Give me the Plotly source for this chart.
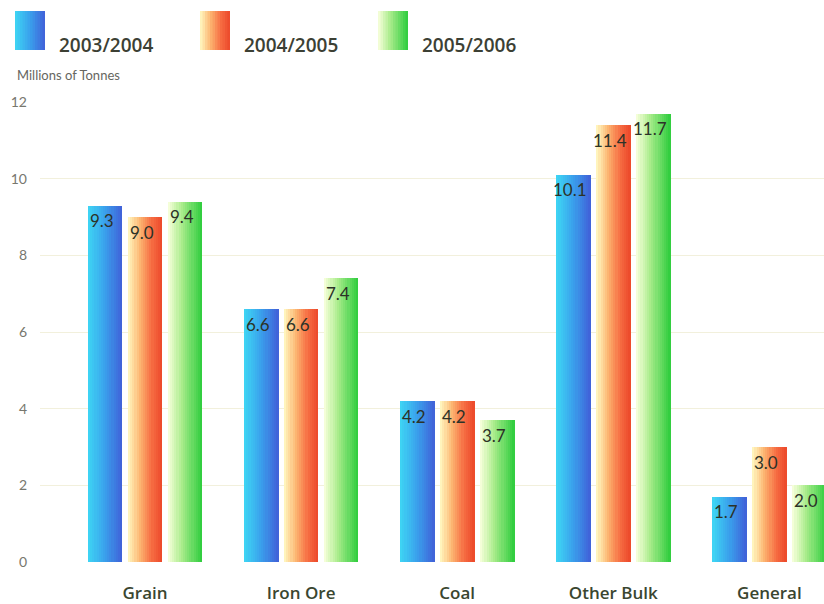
import plotly.graph_objects as go

categories = ["Grain", "Iron Ore", "Coal", "Other Bulk", "General"]
series_names = ["2003/2004", "2004/2005", "2005/2006"]
v2003 = [9.3, 6.6, 4.2, 10.1, 1.7]
v2004 = [9.0, 6.6, 4.2, 11.4, 3.0]
v2005 = [9.4, 7.4, 3.7, 11.7, 2.0]
y_ticks = [0, 2, 4, 6, 8, 10, 12]

values = [v2003, v2004, v2005]
gradients = [
    [(0.0, (62, 214, 244)), (0.5, (58, 160, 236)), (1.0, (64, 96, 216))],
    [(0.0, (255, 250, 195)), (0.35, (252, 180, 112)), (0.7, (246, 108, 66)), (1.0, (236, 72, 42))],
    [(0.0, (250, 255, 222)), (0.4, (170, 236, 140)), (1.0, (44, 204, 60))],
]

def interp(stops, t):
    for (t0, c0), (t1, c1) in zip(stops[:-1], stops[1:]):
        if t <= t1:
            f = (t - t0) / (t1 - t0) if t1 > t0 else 0
            return "rgb(%d,%d,%d)" % tuple(round(a + (b - a) * f) for a, b in zip(c0, c1))
    return "rgb(%d,%d,%d)" % stops[-1][1]

x = list(range(len(categories)))
bar_w = 0.218
gap = 0.038
offsets = [-0.365 + i * (bar_w + gap) for i in range(3)]
N = 16
sw = bar_w / N

fig = go.Figure()
for s in range(3):
    for k in range(N):
        t = (k + 0.5) / N
        fig.add_trace(go.Bar(
            x=x, y=values[s], width=sw * 1.15, offset=offsets[s] + k * sw,
            marker=dict(color=interp(gradients[s], t), line=dict(width=0)),
            showlegend=False, hoverinfo="skip"))

# value labels
for s in range(3):
    for i, v in enumerate(values[s]):
        fig.add_annotation(
            x=i + offsets[s] + bar_w / 2, y=v, xref="x", yref="y",
            text=f"{v:.1f}", showarrow=False, xanchor="center", yanchor="middle",
            xshift=-3, yshift=-15,
            font=dict(family="Lato", size=17, color="#2c3228"))

# legend
def px2paper(px, py):
    return (px - 40) / 784, (562 - py) / 460

legend_x = [15, 200, 378]
for s in range(3):
    x0 = legend_x[s]
    M = 12
    for k in range(M):
        t = (k + 0.5) / M
        ax0, ay0 = px2paper(x0 + k * 30 / M, 50)
        ax1, ay1 = px2paper(x0 + (k + 1) * 30 / M + 1.2, 11)
        if k == M - 1:
            ax1, _ = px2paper(x0 + 30, 11)
        fig.add_shape(type="rect", xref="paper", yref="paper",
                      x0=ax0, x1=ax1, y0=ay0, y1=ay1,
                      fillcolor=interp(gradients[s], t), line=dict(width=0), layer="above")
    tx, ty = px2paper(x0 + 42, 45)
    fig.add_annotation(x=tx, y=ty, xref="paper", yref="paper", text=series_names[s],
                       showarrow=False, xanchor="left", yanchor="middle",
                       font=dict(family="Open Sans", size=19, weight=600, color="#3c4034"))

mx, my = px2paper(15, 75)
fig.add_annotation(x=mx, y=my, xref="paper", yref="paper", text="Millions of Tonnes",
                   showarrow=False, xanchor="left", yanchor="middle",
                   font=dict(family="Lato", size=13, color="#666660"))

fig.update_layout(
    width=824, height=604,
    margin=dict(l=40, r=0, t=102, b=42),
    paper_bgcolor="white", plot_bgcolor="white",
    barmode="overlay", bargap=0,
    xaxis=dict(range=[-0.673, 4.35], tickvals=x, ticktext=categories,
               showgrid=False, zeroline=False, showline=False, ticks="",
               ticklabelstandoff=19,
               tickfont=dict(family="Open Sans", size=17, weight=600, color="#3a4630")),
    yaxis=dict(range=[0, 12], tickvals=y_ticks, showgrid=True, gridcolor="#f2f0dc",
               gridwidth=1, zeroline=False, showline=False, ticks="",
               ticklabelstandoff=12,
               tickfont=dict(family="Lato", size=14, color="#77776e")),
    font=dict(family="Lato"),
)

fig.write_html("out.html")
